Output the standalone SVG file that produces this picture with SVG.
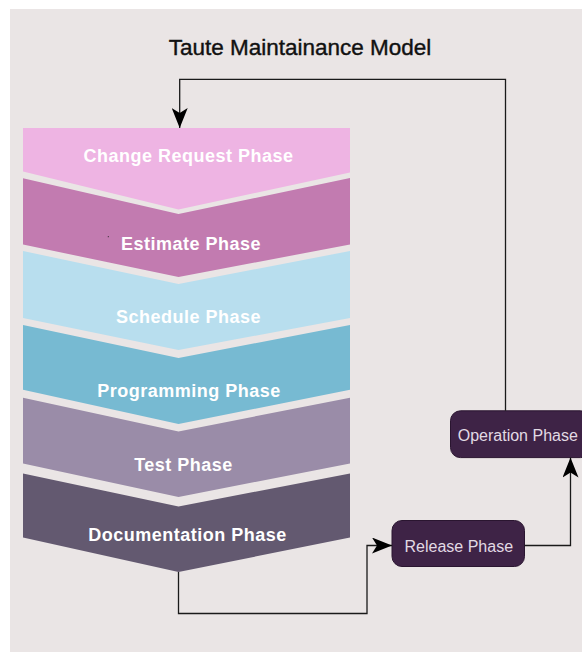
<svg xmlns="http://www.w3.org/2000/svg" width="582" height="652" viewBox="0 0 582 652">
<style>
.phase{font-family:"Liberation Sans",Arial,sans-serif;font-weight:bold;font-size:18px;fill:#FFFFFF;text-anchor:middle;letter-spacing:0.5px}
.box{fill:#3E2346;stroke:#2A1530;stroke-width:1}
.boxtxt{font-family:"Liberation Sans",Arial,sans-serif;font-size:16px;fill:#E2DAE4;text-anchor:middle}
.conn{fill:none;stroke:#1A1A1A;stroke-width:1.3}
.title{font-family:"Liberation Sans",Arial,sans-serif;font-size:22.5px;fill:#111111;stroke:#111111;stroke-width:0.4;text-anchor:middle}
</style>
<defs>
<marker id="arr" viewBox="0 0 20 16" refX="20" refY="8" markerWidth="20" markerHeight="16" markerUnits="userSpaceOnUse" orient="auto">
<path d="M0,0 L20,8 L0,16 L5,8 Z" fill="#000000"/>
</marker>
</defs>
<rect x="10" y="9" width="572" height="643" fill="#EAE5E5"/>
<text class="title" x="300" y="55">Taute Maintainance Model</text>

<g id="change-request">
<path d="M23,128 H350 V172.5 L178.5,209.5 L23,171.5 Z" fill="#EEB4E3"/>
<text class="phase" x="188.5" y="161.7">Change Request Phase</text>
</g>
<g id="estimate">
<path d="M23,178.3 L178.5,214 L350,178 V244.5 L178.5,277 L23,244.5 Z" fill="#C27BB0"/>
<text class="phase" x="191" y="250">Estimate Phase</text>
<rect x="107.8" y="236.2" width="1" height="1" fill="#222"/>
</g>
<g id="schedule">
<path d="M23,251 L178.5,284 L350,251 V318 L178.5,350 L23,318 Z" fill="#B8DEEE"/>
<text class="phase" x="188.5" y="323.3">Schedule Phase</text>
</g>
<g id="programming">
<path d="M23,325 L178.5,358 L350,325 V389.7 L178.5,424 L23,389.7 Z" fill="#77BAD2"/>
<text class="phase" x="189" y="396.7">Programming Phase</text>
</g>
<g id="test">
<path d="M23,397.7 L178.5,431.5 L350,397.7 V463.5 L178.5,497 L23,463.5 Z" fill="#9A8CA8"/>
<text class="phase" x="183.5" y="470.7">Test Phase</text>
</g>
<g id="documentation">
<path d="M23,473.5 L178.5,506.5 L350,473.5 V537.5 L178.5,572 L23,537.5 Z" fill="#635970"/>
<text class="phase" x="187.5" y="540.7">Documentation Phase</text>
</g>

<g id="release">
<rect class="box" x="392" y="520.5" width="132.5" height="46" rx="10" ry="10"/>
<text class="boxtxt" x="458.8" y="551.5">Release Phase</text>
</g>
<g id="operation">
<rect class="box" x="450.5" y="410.8" width="140" height="46.8" rx="10" ry="10"/>
<text class="boxtxt" x="517.8" y="441">Operation Phase</text>
</g>

<g id="connectors">
<path class="conn" d="M178.5,572 V613.5 H367 V545.5 H392" marker-end="url(#arr)"/>
<path class="conn" d="M524.5,545.5 H570.5 V457.6" marker-end="url(#arr)"/>
<path class="conn" d="M505.5,410.8 V79.3 H179.7 V128" marker-end="url(#arr)"/>
</g>
</svg>
